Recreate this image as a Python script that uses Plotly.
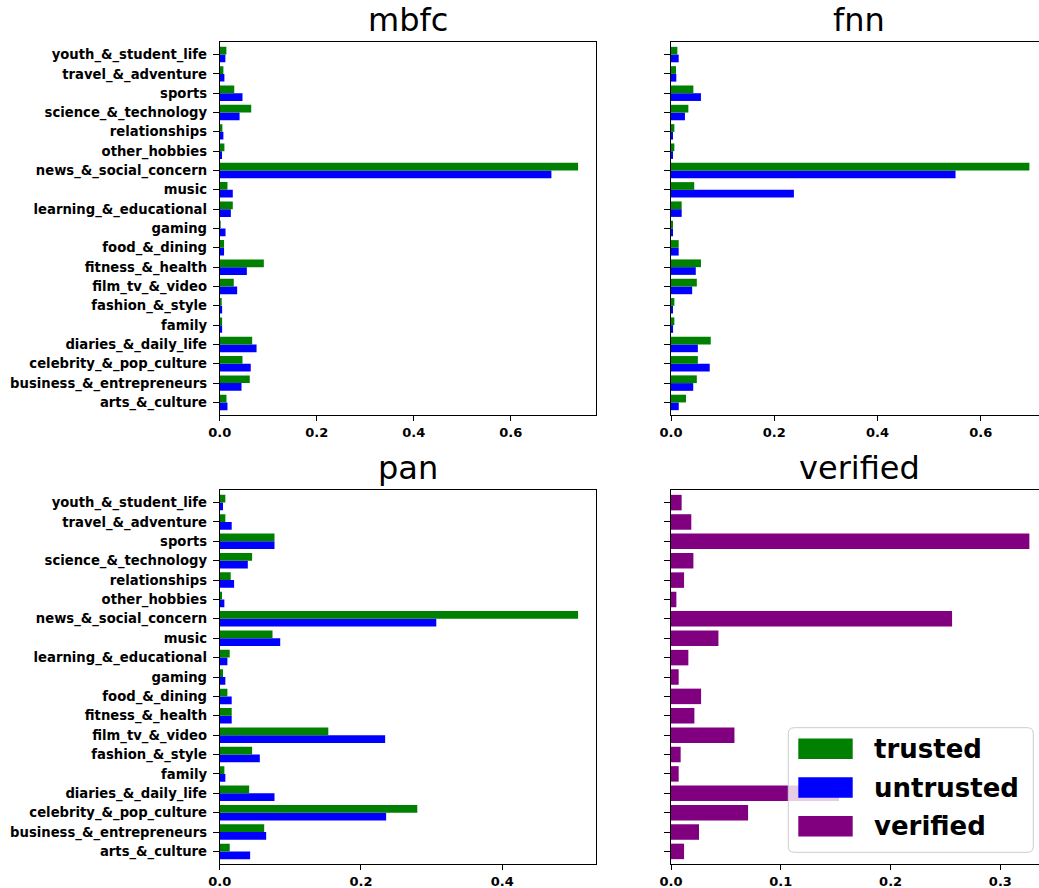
import plotly.graph_objects as go

# Topic categories, bottom to top
categories = [
    "arts_&_culture", "business_&_entrepreneurs", "celebrity_&_pop_culture",
    "diaries_&_daily_life", "family", "fashion_&_style", "film_tv_&_video",
    "fitness_&_health", "food_&_dining", "gaming", "learning_&_educational",
    "music", "news_&_social_concern", "other_hobbies", "relationships",
    "science_&_technology", "sports", "travel_&_adventure", "youth_&_student_life",
]

mbfc_trusted = [0.014, 0.062, 0.047, 0.067, 0.005, 0.003, 0.029, 0.091, 0.009, 0.0005,
                0.027, 0.016, 0.739, 0.0097, 0.0055, 0.065, 0.030, 0.0076, 0.0138]
mbfc_untrusted = [0.016, 0.045, 0.064, 0.076, 0.005, 0.005, 0.036, 0.056, 0.009, 0.012,
                  0.023, 0.027, 0.684, 0.0048, 0.0076, 0.041, 0.047, 0.0097, 0.0117]

fnn_trusted = [0.029, 0.050, 0.052, 0.077, 0.0065, 0.0065, 0.050, 0.058, 0.0149, 0.002,
               0.0207, 0.045, 0.694, 0.0065, 0.0065, 0.0336, 0.0433, 0.0097, 0.0123]
fnn_untrusted = [0.015, 0.043, 0.075, 0.052, 0.004, 0.002, 0.041, 0.048, 0.0149, 0.002,
                 0.0207, 0.238, 0.551, 0.0039, 0.0039, 0.027, 0.058, 0.0103, 0.0149]

pan_trusted = [0.0142, 0.063, 0.2798, 0.0417, 0.0066, 0.0459, 0.1538, 0.017, 0.0109, 0.0047,
               0.0142, 0.0748, 0.5075, 0.0033, 0.0156, 0.0459, 0.0776, 0.008, 0.008]
pan_untrusted = [0.0431, 0.0658, 0.2357, 0.0776, 0.008, 0.0568, 0.2343, 0.017, 0.017, 0.008,
                 0.0109, 0.0857, 0.3067, 0.0066, 0.0204, 0.0398, 0.0776, 0.017, 0.0047]

verified = [0.0119, 0.0255, 0.0702, 0.153, 0.007, 0.0088, 0.0578, 0.0213, 0.0274, 0.007,
            0.0158, 0.0432, 0.256, 0.0049, 0.0119, 0.0204, 0.3264, 0.0185, 0.0097]

GREEN, BLUE, PURPLE = "#008000", "#0000ff", "#800080"

W, H = 1039, 888
FONT = "DejaVu Sans"


def fx(px):
    return px / W


def fy(py):
    return 1 - py / H


# Panel geometry (pixels); right-hand panels run past the page edge
AX_W = 376.3
LEFT_X0, RIGHT_X0 = 219.7, 671.0
TOP_Y0, TOP_Y1 = 42.0, 415.0
BOT_Y0, BOT_Y1 = 490.0, 864.0

panels = [
    # (title, series, x0, y0, y1, dtick)
    ("mbfc", [("untrusted", mbfc_untrusted, BLUE), ("trusted", mbfc_trusted, GREEN)], LEFT_X0, TOP_Y0, TOP_Y1, 0.2),
    ("fnn", [("untrusted", fnn_untrusted, BLUE), ("trusted", fnn_trusted, GREEN)], RIGHT_X0, TOP_Y0, TOP_Y1, 0.2),
    ("pan", [("untrusted", pan_untrusted, BLUE), ("trusted", pan_trusted, GREEN)], LEFT_X0, BOT_Y0, BOT_Y1, 0.2),
    ("verified", [("verified", verified, PURPLE)], RIGHT_X0, BOT_Y0, BOT_Y1, 0.1),
]

fig = go.Figure()
annotations = []
layout = {}

for k, (title, series, x0, y0, y1, dtick) in enumerate(panels, start=1):
    suffix = "" if k == 1 else str(k)
    xa, ya = "x" + suffix, "y" + suffix
    for name, vals, color in series:
        fig.add_trace(go.Bar(
            y=categories, x=vals, orientation="h", name=name,
            marker=dict(color=color, line=dict(width=0)),
            xaxis=xa, yaxis=ya, showlegend=False,
        ))
    full_max = 1.05 * max(max(v) for _, v, _ in series)
    x1_full = x0 + AX_W
    x1 = min(x1_full, W)
    xmax = full_max * (x1 - x0) / AX_W
    right_side = x0 > 500
    layout["xaxis" + suffix] = dict(
        domain=[fx(x0), fx(x1)], anchor=ya, range=[0, xmax], automargin=False,
        dtick=dtick, tick0=0, tickformat=".1f",
        showgrid=False, zeroline=False, showline=True, mirror=True,
        linecolor="#000000", linewidth=1,
        ticks="outside", ticklen=5, tickwidth=1, tickcolor="#000000",
        tickfont=dict(family=FONT, size=13, color="#000000", weight="bold"),
    )
    layout["yaxis" + suffix] = dict(
        domain=[fy(y1), fy(y0)], anchor=xa, type="category", automargin=False,
        categoryorder="array", categoryarray=categories,
        range=[-0.65, len(categories) - 1 + 0.65],
        showgrid=False, zeroline=False, showline=True, mirror=not right_side,
        linecolor="#000000", linewidth=1,
        ticks="outside", ticklen=6, tickwidth=1, tickcolor="#000000",
        showticklabels=not right_side, ticklabelstandoff=3,
        tickfont=dict(family=FONT, size=13.2, color="#000000", weight="bold"),
    )
    annotations.append(dict(
        text=title, xref="paper", yref="paper",
        x=fx(x0 + AX_W / 2), y=fy(y0), xanchor="center", yanchor="bottom",
        yshift=1, showarrow=False,
        font=dict(family=FONT, size=32, color="#000000"),
    ))

# Legend box drawn in the lower-right panel
shapes = []
lx0, lx1, ly0, ly1, r = 788.3, 1033.3, 727.7, 852.3, 6
rx, ry = r / W, r / H
X0, X1, Y0, Y1 = fx(lx0), fx(lx1), fy(ly0), fy(ly1)
path = (
    f"M {X0 + rx},{Y0} L {X1 - rx},{Y0} Q {X1},{Y0} {X1},{Y0 - ry} "
    f"L {X1},{Y1 + ry} Q {X1},{Y1} {X1 - rx},{Y1} "
    f"L {X0 + rx},{Y1} Q {X0},{Y1} {X0},{Y1 + ry} "
    f"L {X0},{Y0 - ry} Q {X0},{Y0} {X0 + rx},{Y0} Z"
)
shapes.append(dict(type="path", path=path, xref="paper", yref="paper",
                   fillcolor="rgba(255,255,255,0.8)",
                   line=dict(color="#cccccc", width=1), layer="above"))

legend_items = [("trusted", GREEN), ("untrusted", BLUE), ("verified", PURPLE)]
for i, (label, color) in enumerate(legend_items):
    cy = 748.7 + i * 38.8
    shapes.append(dict(type="rect", xref="paper", yref="paper",
                       x0=fx(798.3), x1=fx(852.7), y0=fy(cy - 10.3), y1=fy(cy + 10.3),
                       fillcolor=color, line=dict(width=0), layer="above"))
    annotations.append(dict(
        text=label, xref="paper", yref="paper", x=fx(872), y=fy(cy),
        xanchor="left", yanchor="middle", showarrow=False,
        font=dict(family=FONT, size=26, color="#000000", weight="bold"),
    ))

fig.update_layout(
    width=W, height=H,
    margin=dict(l=0, r=0, t=0, b=0),
    paper_bgcolor="#ffffff", plot_bgcolor="#ffffff",
    barmode="group", bargap=0.2, bargroupgap=0,
    showlegend=False,
    annotations=annotations, shapes=shapes,
    **layout,
)

fig.write_html("out.html")
